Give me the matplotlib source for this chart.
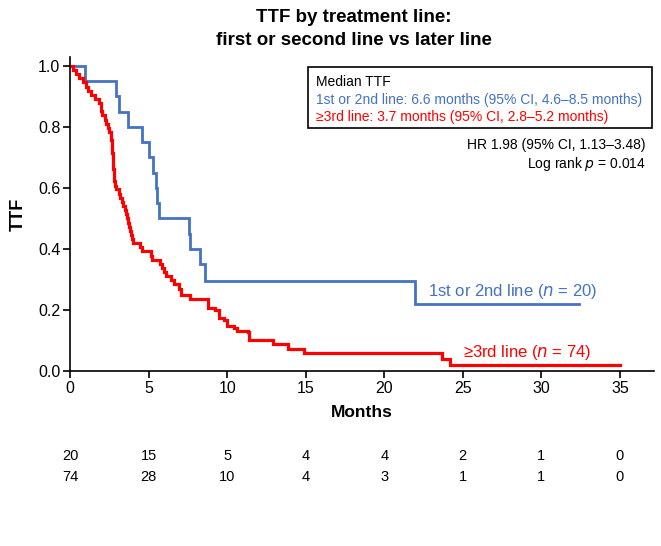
import matplotlib.pyplot as plt

plt.rcParams['font.family'] = ['Liberation Sans', 'DejaVu Sans']

# Kaplan-Meier steps (months, TTF after the drop)
blue_t = [0, 0.98, 2.93, 3.09, 3.70, 4.57, 5.04, 5.26, 5.50, 5.54, 5.65,
          7.57, 7.61, 8.30, 8.59, 21.96]
blue_s = [1.0, 0.95, 0.90, 0.85, 0.80, 0.75, 0.70, 0.65, 0.60, 0.55, 0.50,
          0.45, 0.40, 0.35, 0.294, 0.22]
blue_end = 32.4

red_t = [0, 0.2, 0.4, 0.6, 0.8, 1.0, 1.15, 1.35, 1.6, 1.85, 1.95, 2.05, 2.2,
         2.3, 2.4, 2.5, 2.6, 2.65, 2.7, 2.72, 2.74, 2.76, 2.78, 2.8, 2.87,
         2.95, 3.1, 3.2, 3.28, 3.4, 3.5, 3.58, 3.63, 3.68, 3.75, 3.8, 3.86,
         3.92, 4.0, 4.45, 4.57, 5.15, 5.22, 5.7, 5.87, 5.95, 6.08, 6.4, 6.63,
         6.95, 7.07, 7.62, 8.8, 9.25, 9.45, 9.8, 10.0, 10.45, 10.65, 11.3,
         11.41, 12.94, 13.9, 14.9, 23.66, 24.18]
red_s = [1.0, 0.986, 0.973, 0.959, 0.946, 0.932, 0.919, 0.905, 0.892, 0.878,
         0.851, 0.838, 0.824, 0.811, 0.797, 0.784, 0.757, 0.743, 0.716, 0.703,
         0.689, 0.662, 0.635, 0.622, 0.608, 0.595, 0.581, 0.568, 0.554, 0.541,
         0.527, 0.514, 0.500, 0.486, 0.473, 0.459, 0.446, 0.432, 0.419, 0.405,
         0.392, 0.378, 0.365, 0.351, 0.338, 0.324, 0.311, 0.297, 0.284, 0.270,
         0.248, 0.236, 0.207, 0.200, 0.174, 0.168, 0.146, 0.140, 0.132, 0.127,
         0.102, 0.087, 0.072, 0.058, 0.039, 0.019]
red_end = 35.0

xticks = [0, 5, 10, 15, 20, 25, 30, 35]
risk_blue = [20, 15, 5, 4, 4, 2, 1, 0]
risk_red = [74, 28, 10, 4, 3, 1, 1, 0]

BLUE = '#4472C4'
RED = '#FF0000'

fig = plt.figure(figsize=(6.61, 5.46), dpi=100, facecolor='white')
ax = fig.add_axes([0.106, 0.3205, 0.884, 0.5755])

ax.step(blue_t + [blue_end], blue_s + [blue_s[-1]], where='post',
        color=BLUE, lw=2.0, solid_joinstyle='miter')
ax.step(red_t + [red_end], red_s + [red_s[-1]], where='post',
        color=RED, lw=2.3, solid_joinstyle='miter')

ax.set_xlim(0, 37.2)
ax.set_ylim(0, 1.03)
ax.set_xticks(xticks)
ax.set_yticks([0, 0.2, 0.4, 0.6, 0.8, 1.0])
ax.set_yticklabels(['0.0', '0.2', '0.4', '0.6', '0.8', '1.0'])
ax.tick_params(labelsize=11.5, length=5, width=1.2, direction='out', pad=2)
for side in ['top', 'right']:
    ax.spines[side].set_visible(False)
for side in ['left', 'bottom']:
    ax.spines[side].set_linewidth(1.2)

ax.set_xlabel('Months', fontsize=12.5, fontweight='bold', labelpad=7)
ax.set_ylabel('TTF', fontsize=13, fontweight='bold', labelpad=8)

fig.text(0.535, 0.984, 'TTF by treatment line:\nfirst or second line vs later line',
         ha='center', va='top', fontsize=13.5, fontweight='bold', linespacing=1.5)

# median box
box = plt.Rectangle((0.466, 0.765), 0.52, 0.112, transform=fig.transFigure,
                    fill=False, edgecolor='black', lw=1.2)
fig.add_artist(box)
fig.text(0.478, 0.862, 'Median TTF', fontsize=10, va='top')
fig.text(0.478, 0.830, '1st or 2nd line: 6.6 months (95% CI, 4.6\u20138.5 months)',
         fontsize=10, va='top', color=BLUE)
fig.text(0.478, 0.798, '\u22653rd line: 3.7 months (95% CI, 2.8\u20135.2 months)',
         fontsize=10, va='top', color=RED)
fig.text(0.977, 0.748, 'HR 1.98 (95% CI, 1.13\u20133.48)', fontsize=10,
         ha='right', va='top')
fig.text(0.977, 0.716, 'Log rank $\\it{p}$ = 0.014', fontsize=10,
         ha='right', va='top')

ax.text(22.8, 0.262, '1st or 2nd line ($\\it{n}$ = 20)', color=BLUE,
        fontsize=12, ha='left', va='center')
ax.text(25.0, 0.062, '\u22653rd line ($\\it{n}$ = 74)', color=RED,
        fontsize=12, ha='left', va='center')

# numbers at risk
for x, b, r in zip(xticks, risk_blue, risk_red):
    ax.annotate(str(b), (x, 0), xycoords=('data', 'axes fraction'),
                xytext=(0, -61), textcoords='offset points', ha='center',
                va='center', fontsize=10.5)
    ax.annotate(str(r), (x, 0), xycoords=('data', 'axes fraction'),
                xytext=(0, -76), textcoords='offset points', ha='center',
                va='center', fontsize=10.5)

fig.savefig('out.png', dpi=100, facecolor='white')
